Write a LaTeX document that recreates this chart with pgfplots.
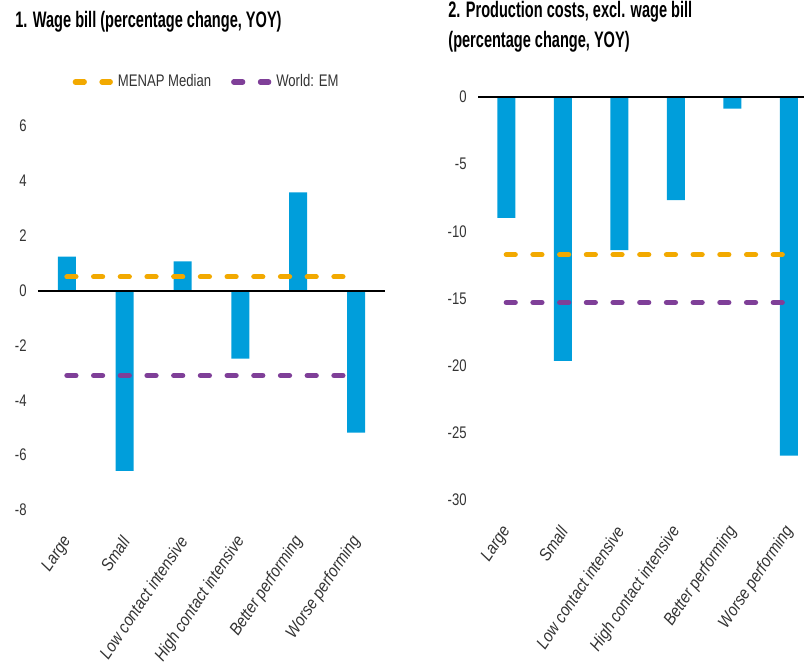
\documentclass[border=0pt]{standalone}
\usepackage{fontspec}
\setmainfont{Liberation Sans}[FakeStretch=0.78]
\newfontfamily\titlefont{Liberation Sans}[FakeStretch=0.65]
\newfontfamily\catfont{Liberation Sans}[FakeStretch=0.87]
\usepackage{pgfplots}
\pgfplotsset{compat=1.18}

\definecolor{barblue}{RGB}{0,158,219}
\definecolor{menap}{RGB}{242,169,0}
\definecolor{worldem}{RGB}{127,63,152}
\definecolor{labelgray}{RGB}{51,51,51}

\newcommand\lblfont{\fontsize{8.4}{10}\selectfont}
\newcommand\catlblfont{\catfont\itshape\fontsize{8.6}{10}\selectfont}
\newcommand\ttlfont{\titlefont\bfseries\fontsize{11.2}{13}\selectfont}

\pgfplotsset{
  panel/.style={
    scale only axis,
    anchor=south west,
    axis lines*=left,
    axis line style={draw=none,-},
    major tick length=0pt,
    tick style={draw=none},
    xmin=-0.5,
    xtick={0,...,5},
    xticklabels={Large,Small,Low contact intensive,High contact intensive,Better performing,Worse performing},
    xticklabel style={font=\catlblfont, text=labelgray, xshift=0.5pt, yshift=-14pt, rotate=56, anchor=east, inner sep=0pt},
    yticklabel style={font=\lblfont, text=labelgray, inner sep=0pt, xshift=-5.5pt},
    /pgf/number format/assume math mode=true,
    clip=false,
  },
  refline/.style={line width=2.6pt, line cap=round, dash pattern=on 4.5pt off 8.85pt},
}

\begin{document}
\begin{tikzpicture}
\path[use as bounding box] (0pt,0pt) rectangle (402pt,334.5pt);

% Panel 1: wage bill
\node[anchor=base west, inner sep=0pt] at (7.5pt,320.5pt) {\ttlfont 1. Wage bill (percentage change, YOY)};
\begin{axis}[panel,
  at={(19pt,79.5pt)}, width=173.5pt, height=192pt,
  xmax=5.5, ymin=-8, ymax=6, ytick={-8,-6,...,6},
  legend columns=2,
  legend style={draw=none, fill=none, at={(0.1,1.1146)}, anchor=west,
    inner sep=0pt, outer sep=0pt,
    nodes={inner sep=0pt, text=labelgray, font=\lblfont},
    /tikz/every odd column/.append style={column sep=2.5pt},
    /tikz/every even column/.append style={column sep=10pt}},
  legend image code/.code={\draw[#1] (0pt,0pt) -- (17.5pt,0pt);},
]
\addplot[ybar, bar width=9pt, bar shift=0pt, fill=barblue, draw=none, forget plot]
  coordinates {(0,1.24) (1,-6.57) (2,1.06) (3,-2.48) (4,3.58) (5,-5.18)};
\addplot[black, line width=1pt, forget plot] coordinates {(-0.5,0) (5.5,0)};
\addplot[refline, menap] coordinates {(0,0.5) (5,0.5)};
\addlegendentry{MENAP Median}
\addplot[refline, worldem] coordinates {(0,-3.1) (5,-3.1)};
\addlegendentry{World: EM}
\end{axis}

% Panel 2: production costs
\node[anchor=base west, inner sep=0pt] at (224pt,325.5pt) {\ttlfont 2. Production costs, excl. wage bill};
\node[anchor=base west, inner sep=0pt] at (224pt,310.5pt) {\ttlfont (percentage change, YOY)};
\begin{axis}[panel,
  at={(239pt,84.5pt)}, width=163pt, height=201.5pt,
  xmax=5.27, ymin=-30, ymax=0, ytick={-30,-25,...,0},
]
\addplot[ybar, bar width=9pt, bar shift=0pt, fill=barblue, draw=none]
  coordinates {(0,-9.0) (1,-19.65) (2,-11.4) (3,-7.68) (4,-0.86) (5,-26.7)};
\addplot[black, line width=1pt] coordinates {(-0.5,0) (5.27,0)};
\addplot[refline, menap] coordinates {(0,-11.74) (5,-11.74)};
\addplot[refline, worldem] coordinates {(0,-15.3) (5,-15.3)};
\end{axis}
\end{tikzpicture}
\end{document}
